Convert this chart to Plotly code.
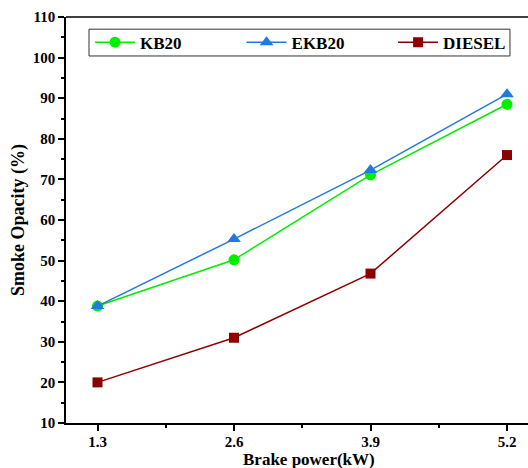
import plotly.graph_objects as go

brake_power = [1.3, 2.6, 3.9, 5.2]
kb20 = [38.8, 50.2, 71.1, 88.5]
ekb20 = [38.8, 55.3, 72.3, 91.0]
diesel = [20.0, 31.0, 46.8, 76.0]
x_ticks = [1.3, 2.6, 3.9, 5.2]
x_tick_labels = ["1.3", "2.6", "3.9", "5.2"]
y_ticks = [10, 20, 30, 40, 50, 60, 70, 80, 90, 100, 110]

FONT = "Liberation Serif"
legend_names = ["legend", "legend2", "legend3"]
legend_x = [0.052, 0.380, 0.708]

fig = go.Figure()
fig.add_trace(go.Scatter(x=brake_power, y=kb20, name="<b>KB20</b>", mode="lines+markers",
                         line=dict(color="#00ee00", width=1.5), legend="legend",
                         marker=dict(symbol="circle", size=11, color="#00ee00")))
fig.add_trace(go.Scatter(x=brake_power, y=ekb20, name="<b>EKB20</b>", mode="lines+markers",
                         line=dict(color="#2278e0", width=1.5), legend="legend2",
                         marker=dict(symbol="triangle-up", size=12, color="#2278e0")))
fig.add_trace(go.Scatter(x=brake_power, y=diesel, name="<b>DIESEL</b>", mode="lines+markers",
                         line=dict(color="#8b0000", width=1.5), legend="legend3",
                         marker=dict(symbol="square", size=10, color="#8b0000")))

axis_common = dict(showgrid=False, zeroline=False, showline=True, linecolor="black", linewidth=1.5,
                   ticks="outside", ticklen=6, tickwidth=1.5, tickcolor="black",
                   tickfont=dict(family=FONT, size=15, color="black"))

fig.update_xaxes(range=[1.0, 5.4], tickvals=x_ticks,
                 ticktext=["<b>" + t + "</b>" for t in x_tick_labels], mirror=False,
                 ticklabelstandoff=-2,
                 minor=dict(ticks="outside", ticklen=3, tickwidth=1.5, tickcolor="black", dtick=0.65, tick0=1.3),
                 **axis_common)
fig.update_yaxes(range=[10, 110], tickvals=y_ticks,
                 ticktext=["<b>%d</b>" % v for v in y_ticks],
                 minor=dict(ticks="outside", ticklen=3, tickwidth=1.5, tickcolor="black", dtick=5, tick0=10),
                 title=dict(text="<b>Smoke Opacity (%)</b>", font=dict(family=FONT, size=18, color="black"), standoff=3),
                 **axis_common)

leg_common = dict(orientation="h", y=0.937, xanchor="left", yanchor="middle",
                  borderwidth=0, bgcolor="rgba(0,0,0,0)",
                  font=dict(family=FONT, size=17, color="black"), itemwidth=40)
layout_legends = {name: dict(x=lx, **leg_common) for name, lx in zip(legend_names, legend_x)}

fig.update_layout(
    width=528, height=468,
    margin=dict(l=66, r=0, t=17, b=45),
    plot_bgcolor="white", paper_bgcolor="white",
    font=dict(family=FONT, color="black"),
    showlegend=True,
    **layout_legends,
)
# legend frame box
fig.add_shape(type="rect", xref="paper", yref="paper", x0=0.0498, x1=0.961, y0=0.904, y1=0.970,
              line=dict(color="#333333", width=1), fillcolor="rgba(0,0,0,0)", layer="below")
# top frame line
fig.add_shape(type="line", xref="paper", yref="paper", x0=0, x1=1, y0=1, y1=1,
              line=dict(color="black", width=1.5))
fig.add_annotation(text="<b>Brake power(kW)</b>", xref="paper", yref="paper", x=0.527, y=0,
                   yshift=-36, yanchor="middle", showarrow=False,
                   font=dict(family=FONT, size=17, color="black"))

fig.write_html("out.html")
